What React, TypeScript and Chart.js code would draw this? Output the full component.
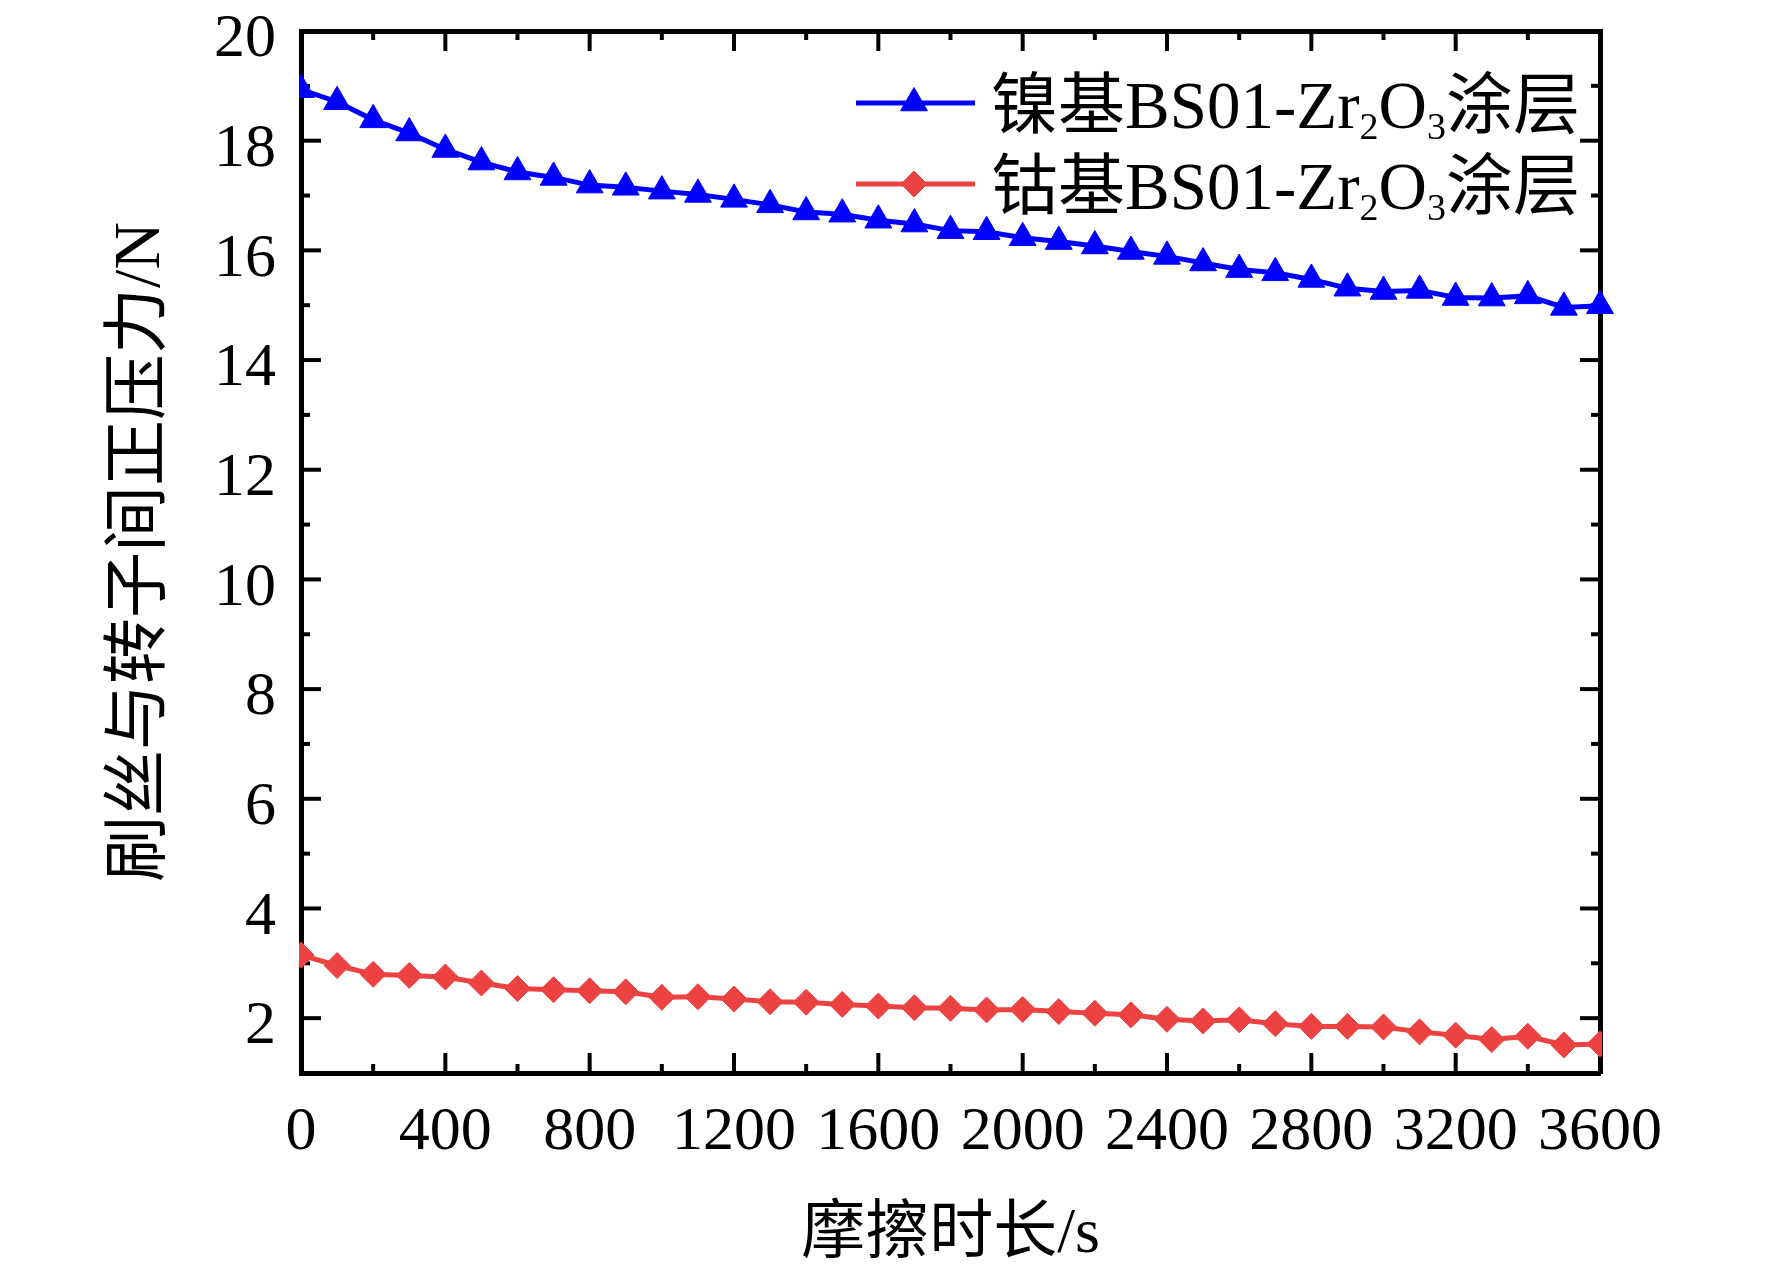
import { useEffect, useRef } from 'react'
import { Chart, registerables } from 'chart.js'
import { drawPoint } from 'chart.js/helpers'

Chart.register(...registerables)

// 摩擦时长 (s)
const times = [
  0, 100, 200, 300, 400, 500, 600, 700, 800, 900, 1000, 1100, 1200, 1300, 1400, 1500, 1600, 1700, 1800,
  1900, 2000, 2100, 2200, 2300, 2400, 2500, 2600, 2700, 2800, 2900, 3000, 3100, 3200, 3300, 3400, 3500, 3600,
]

// 镍基涂层 正压力 (N)
const nickelForce = [
  18.93, 18.71, 18.38, 18.14, 17.84, 17.61, 17.43, 17.33, 17.19, 17.15, 17.08, 17.02, 16.93, 16.83, 16.7, 16.66,
  16.55, 16.48, 16.36, 16.34, 16.23, 16.16, 16.08, 15.98, 15.89, 15.77, 15.65, 15.59, 15.47, 15.31, 15.25, 15.27,
  15.14, 15.13, 15.17, 14.96, 14.99,
]

// 钴基涂层 正压力 (N)
const cobaltForce = [
  3.15, 2.96, 2.8, 2.78, 2.75, 2.64, 2.54, 2.52, 2.5, 2.48, 2.38, 2.39, 2.35, 2.3, 2.29, 2.25, 2.22, 2.19, 2.18,
  2.15, 2.16, 2.12, 2.09, 2.06, 1.98, 1.95, 1.97, 1.9, 1.85, 1.85, 1.84, 1.75, 1.69, 1.61, 1.67, 1.51, 1.53,
]

const xTickValues = [0, 400, 800, 1200, 1600, 2000, 2400, 2800, 3200, 3600]
const xMinorValues = [200, 600, 1000, 1400, 1800, 2200, 2600, 3000, 3400]
const yTickValues = [2, 4, 6, 8, 10, 12, 14, 16, 18, 20]
const yMinorValues = [3, 5, 7, 9, 11, 13, 15, 17, 19]

// 图例文字: [文字, 是否下标]
const nickelLabel: [string, boolean][] = [['镍基BS01-Zr', false], ['2', true], ['O', false], ['3', true], ['涂层', false]]
const cobaltLabel: [string, boolean][] = [['钴基BS01-Zr', false], ['2', true], ['O', false], ['3', true], ['涂层', false]]
const legendLabels = [nickelLabel, cobaltLabel]

const xTitle = '摩擦时长/s'
const yTitle = '刷丝与转子间正压力/N'

const FONT = "'Liberation Serif', 'Noto Sans CJK SC', serif"
const BLUE = '#0000ff'
const RED = '#ec4242'

// 四边向内的刻度线
const tickMarks = {
  id: 'tickMarks',
  beforeDatasetsDraw(chart: any) {
    const { ctx, chartArea } = chart
    const { left, right, top, bottom } = chartArea
    const xs = chart.scales.x
    const ys = chart.scales.y
    ctx.save()
    ctx.strokeStyle = '#000'
    ctx.lineWidth = 4
    const mark = (x1: number, y1: number, x2: number, y2: number) => {
      ctx.beginPath()
      ctx.moveTo(x1, y1)
      ctx.lineTo(x2, y2)
      ctx.stroke()
    }
    const xMarks = (vals: number[], len: number) =>
      vals.forEach((v) => {
        const px = xs.getPixelForValue(v)
        mark(px, bottom, px, bottom - len)
        mark(px, top, px, top + len)
      })
    const yMarks = (vals: number[], len: number) =>
      vals.forEach((v) => {
        const py = ys.getPixelForValue(v)
        mark(left, py, left + len, py)
        mark(right, py, right - len, py)
      })
    xMarks(xTickValues, 20)
    xMarks(xMinorValues, 9)
    yMarks(yTickValues, 20)
    yMarks(yMinorValues, 9)
    ctx.restore()
  },
}

// 图例 (带下标)
const legendBox = {
  id: 'legendBox',
  afterDraw(chart: any) {
    const { ctx } = chart
    chart.data.datasets.forEach((ds: any, i: number) => {
      const yLine = 103 + i * 81
      ctx.save()
      ctx.strokeStyle = ds.borderColor
      ctx.lineWidth = 5
      ctx.beginPath()
      ctx.moveTo(856, yLine)
      ctx.lineTo(975, yLine)
      ctx.stroke()
      ctx.fillStyle = ds.pointBackgroundColor
      ctx.strokeStyle = ds.pointBorderColor
      ctx.lineWidth = 1
      drawPoint(ctx, { pointStyle: ds.pointStyle, radius: ds.pointRadius, borderWidth: 1, rotation: 0 } as any, 914, yLine)

      let x = 991
      const base = yLine + 25
      ctx.fillStyle = '#000'
      ctx.textBaseline = 'alphabetic'
      ctx.textAlign = 'left'
      legendLabels[i].forEach(([text, sub]) => {
        ctx.font = `${sub ? 38 : 67}px ${FONT}`
        ctx.fillText(text, x, sub ? base + 11 : base)
        x += ctx.measureText(text).width
      })
      ctx.restore()
    })
  },
}

export default function App() {
  const chartRef = useRef<HTMLCanvasElement>(null)
  const chartInstance = useRef<Chart | null>(null)

  useEffect(() => {
    if (!chartRef.current) return
    if (chartInstance.current) {
      chartInstance.current.destroy()
    }
    const ctx = chartRef.current.getContext('2d')
    if (!ctx) return

    const tickFont = { family: FONT, size: 62 }
    const border = { display: true, color: '#000', width: 5 }

    chartInstance.current = new Chart(ctx, {
      type: 'line',
      data: {
        datasets: [
          {
            label: '镍基BS01-Zr2O3涂层',
            data: times.map((t, i) => ({ x: t, y: nickelForce[i] })),
            borderColor: BLUE,
            backgroundColor: BLUE,
            borderWidth: 5,
            pointStyle: 'triangle',
            pointRadius: 15.5,
            pointBackgroundColor: BLUE,
            pointBorderColor: BLUE,
            pointBorderWidth: 1,
            clip: { left: 2, top: false, right: false, bottom: false } as any,
          },
          {
            label: '钴基BS01-Zr2O3涂层',
            data: times.map((t, i) => ({ x: t, y: cobaltForce[i] })),
            borderColor: RED,
            backgroundColor: RED,
            borderWidth: 5,
            pointStyle: 'rectRot',
            pointRadius: 13,
            pointBackgroundColor: RED,
            pointBorderColor: RED,
            pointBorderWidth: 1,
            clip: 2,
          },
        ] as any,
      },
      options: {
        animation: false,
        responsive: false,
        devicePixelRatio: 1,
        layout: { padding: 0 },
        plugins: {
          legend: { display: false },
          tooltip: { enabled: false },
        },
        scales: {
          x: {
            type: 'linear',
            position: 'bottom',
            min: 0,
            max: 3600,
            grid: { display: false },
            border,
            afterBuildTicks: (s: any) => {
              s.ticks = xTickValues.map((v) => ({ value: v }))
            },
            afterFit: (s: any) => {
              s.height = 203
              s.paddingLeft = 0
              s.paddingRight = 0
            },
            ticks: {
              font: tickFont,
              color: '#000',
              padding: 15,
              maxRotation: 0,
              autoSkip: false,
              callback: (v: any) => String(v),
            },
            title: {
              display: true,
              text: xTitle,
              color: '#000',
              font: { family: FONT, size: 64 },
              padding: { top: 0, bottom: 2 },
            },
          },
          x2: {
            type: 'linear',
            position: 'top',
            min: 0,
            max: 3600,
            grid: { display: false },
            border,
            ticks: { display: false },
            afterFit: (s: any) => {
              s.height = 31
              s.paddingLeft = 0
              s.paddingRight = 0
            },
          },
          y: {
            type: 'linear',
            position: 'left',
            min: 1,
            max: 20,
            grid: { display: false },
            border,
            afterBuildTicks: (s: any) => {
              s.ticks = yTickValues.map((v) => ({ value: v }))
            },
            afterFit: (s: any) => {
              s.width = 301
              s.paddingTop = 0
              s.paddingBottom = 0
            },
            ticks: {
              font: tickFont,
              color: '#000',
              padding: 17,
              labelOffset: 9,
              autoSkip: false,
              callback: (v: any) => String(v),
            },
            title: {
              display: true,
              text: yTitle,
              color: '#000',
              font: { family: FONT, size: 66 },
              padding: { top: 102, bottom: 0 },
            },
          },
          y2: {
            type: 'linear',
            position: 'right',
            min: 1,
            max: 20,
            grid: { display: false },
            border,
            ticks: { display: false },
            afterFit: (s: any) => {
              s.width = 172
              s.paddingTop = 0
              s.paddingBottom = 0
            },
          },
        },
      } as any,
      plugins: [tickMarks, legendBox],
    })

    return () => {
      if (chartInstance.current) {
        chartInstance.current.destroy()
        chartInstance.current = null
      }
    }
  }, [])

  return (
    <div style={{ position: 'fixed', left: 0, top: 0, width: 1772, height: 1276, background: '#fff' }}>
      <canvas ref={chartRef} width={1772} height={1276} style={{ display: 'block' }} />
    </div>
  )
}
